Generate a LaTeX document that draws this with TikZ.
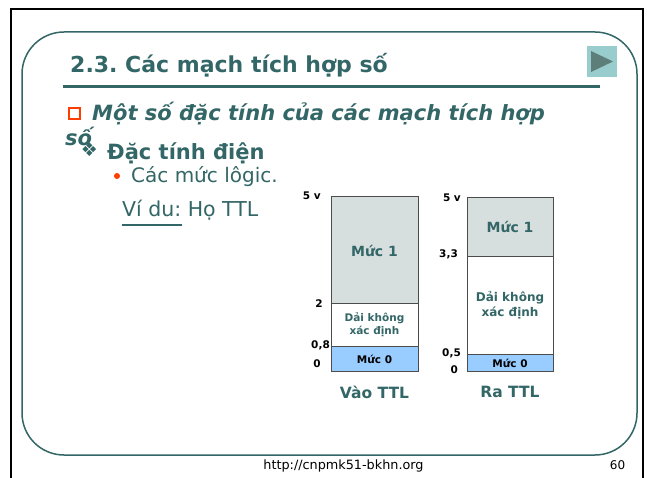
\documentclass[tikz,border=0pt]{standalone}
\usepackage{fontspec}
\setmainfont{DejaVu Sans}
\usepackage{xcolor}
\usepackage{tikz}
\frenchspacing

\begin{document}
\begin{tikzpicture}[x=1pt, y=-1pt,
  headtext/.style={anchor=base west, inner sep=0pt, text=slateteal},
  levellabel/.style={anchor=east, inner sep=0pt, font=\bfseries\fontsize{10.5}{12}\selectfont},
  bartitle/.style={inner sep=0pt, text=slateteal, font=\bfseries\fontsize{15.5}{18}\selectfont}]
  % Define colors
  \definecolor{slateteal}{HTML}{336666}
  \definecolor{buttonfill}{HTML}{99CCCC}
  \definecolor{buttonarrow}{HTML}{5E7E7A}
  \definecolor{bulletred}{HTML}{FF3D00}
  \definecolor{highgrey}{HTML}{D6DEDE}
  \definecolor{lowblue}{HTML}{99CCFF}

  \useasboundingbox (0,0) rectangle (647,478);

  % Draw the slide frames
  \draw[line width=2pt] (11,478) -- (11,9) -- (643,9) -- (643,478);
  \draw[slateteal, line width=1.5pt, rounded corners=42pt] (22,32) rectangle (637,455);

  % Title and play button
  \node[headtext, font=\bfseries\fontsize{22}{26}\selectfont] (title) at (70,73) {2.3. Các mạch tích hợp số};
  \draw[slateteal, line width=3pt] (63,87) -- (600,87);
  \fill[buttonfill] (587,46) rectangle (617,77);
  \fill[buttonarrow] (591,51) -- (613,61.5) -- (591,72) -- cycle;

  % Bullet lines
  \node[draw=bulletred, line width=1.4pt, minimum size=11pt, inner sep=0pt] (boxbullet) at (74.5,113.5) {};
  \node[headtext, font=\bfseries\itshape\fontsize{21}{25}\selectfont] (subhead) at (92,121) {Một số đặc tính của các mạch tích hợp};
  \node[headtext, font=\bfseries\itshape\fontsize{21}{25}\selectfont] (subwrap) at (65,146) {số};
  \node[inner sep=0pt, text=slateteal, font=\fontsize{19}{22}\selectfont] (diamondbullet) at (89.5,150) {❖};
  \node[headtext, font=\bfseries\fontsize{21}{25}\selectfont] (electric) at (107,160) {Đặc tính điện};
  \node[circle, fill=bulletred, minimum size=6pt, inner sep=0pt] (dotbullet) at (117,176) {};
  \node[headtext, font=\fontsize{20}{24}\selectfont] (levels) at (131,183) {Các mức lôgic.};
  \node[headtext, font=\fontsize{20.5}{24}\selectfont] (vidu) at (122,217) {Ví du:};
  \node[headtext, font=\fontsize{20.5}{24}\selectfont, anchor=base west] (family) at ([xshift=6pt]vidu.base east) {Họ TTL};
  \draw[slateteal, line width=1.3pt] ([yshift=-8pt]vidu.base west) -- ([yshift=-8pt]vidu.base east);

  % Draw the input bar
  \filldraw[fill=highgrey, draw=black!70, line width=0.8pt] (331,196) rectangle (418,303);
  \filldraw[fill=white, draw=black!70, line width=0.8pt] (331,303) rectangle (418,346);
  \filldraw[fill=lowblue, draw=black!70, line width=0.8pt] (331,346) rectangle (418,371);
  \node[inner sep=0pt, text=slateteal, font=\bfseries\fontsize{14}{16}\selectfont] (inhigh) at (374.5,251) {Mức 1};
  \node[inner sep=0pt, text=slateteal, align=center, font=\bfseries\fontsize{10.5}{13}\selectfont] (inmid) at (374.5,324.5) {Dải không\\xác định};
  \node[inner sep=0pt, font=\bfseries\fontsize{10.5}{12}\selectfont] (inlow) at (374.5,359) {Mức 0};
  \node[levellabel] (in5) at (321,196) {5 v};
  \node[levellabel] (in2) at (323,304) {2};
  \node[levellabel] (in08) at (330,345) {0,8};
  \node[levellabel] (in0) at (321,364) {0};
  \node[bartitle] (intitle) at (374.5,392) {Vào TTL};

  % Draw the output bar
  \filldraw[fill=highgrey, draw=black!70, line width=0.8pt] (467,197) rectangle (553,256);
  \filldraw[fill=white, draw=black!70, line width=0.8pt] (467,256) rectangle (553,354);
  \filldraw[fill=lowblue, draw=black!70, line width=0.8pt] (467,354) rectangle (553,371);
  \node[inner sep=0pt, text=slateteal, font=\bfseries\fontsize{14}{16}\selectfont] (outhigh) at (510,227) {Mức 1};
  \node[inner sep=0pt, text=slateteal, align=center, font=\bfseries\fontsize{12}{15}\selectfont] (outmid) at (510,305.5) {Dải không\\xác định};
  \node[inner sep=0pt, font=\bfseries\fontsize{10.5}{12}\selectfont] (outlow) at (510,363) {Mức 0};
  \node[levellabel] (out5) at (461,198) {5 v};
  \node[levellabel] (out33) at (458,254) {3,3};
  \node[levellabel] (out05) at (461,353) {0,5};
  \node[levellabel] (out0) at (458,370) {0};
  \node[bartitle] (outtitle) at (510,392) {Ra TTL};

  % Footer
  \node[anchor=base, inner sep=0pt, font=\fontsize{12.8}{15}\selectfont] (footer) at (343.5,469) {http://cnpmk51-bkhn.org};
  \node[anchor=base, inner sep=0pt, font=\fontsize{12}{14}\selectfont] (pagenum) at (617.5,469) {60};
\end{tikzpicture}
\end{document}
